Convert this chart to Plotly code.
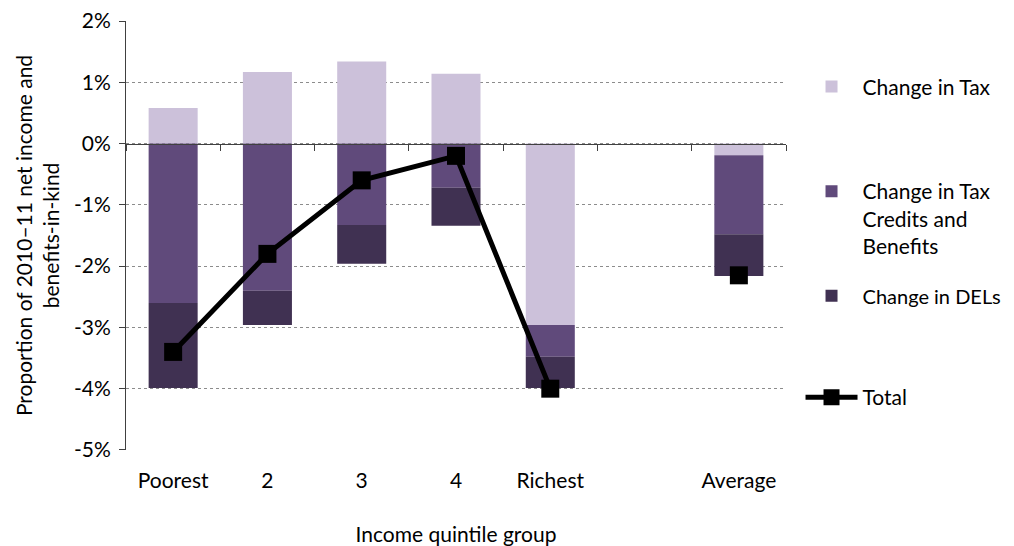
import plotly.graph_objects as go

categories = ["Poorest", "2", "3", "4", "Richest", " ", "Average"]
change_tax = [0.58, 1.17, 1.34, 1.14, -2.96, None, -0.19]
change_tcb = [-2.60, -2.40, -1.33, -0.72, -0.52, None, -1.29]
change_dels = [-1.39, -0.56, -0.63, -0.62, -0.51, None, -0.68]
total = [-3.40, -1.80, -0.60, -0.20, -4.00, None, -2.15]
ytick_vals = [2, 1, 0, -1, -2, -3, -4, -5]
ytick_text = ["2%", "1%", "0%", "-1%", "-2%", "-3%", "-4%", "-5%"]

FONT = "Lato"
FS = 21
TXT = "#000000"

fig = go.Figure()
fig.add_trace(go.Bar(x=categories, y=change_tax, name="Change in Tax",
                     marker=dict(color="#CCC1DA", line=dict(width=0)), legend="legend"))
fig.add_trace(go.Bar(x=categories, y=change_tcb, name="Change in Tax<br>Credits and<br>Benefits",
                     marker=dict(color="#604A7B", line=dict(width=0)), legend="legend2"))
fig.add_trace(go.Bar(x=categories, y=change_dels, name="Change in DELs",
                     marker=dict(color="#403152", line=dict(width=0)), legend="legend3"))
fig.add_trace(go.Scatter(x=categories, y=total, name="Total", mode="lines+markers",
                         line=dict(color="#000000", width=5),
                         marker=dict(symbol="square", size=18, color="#000000"),
                         connectgaps=False, xaxis="x2", legend="legend4"))

def leg(y, size=FS):
    return dict(font=dict(family=FONT, size=size, color=TXT), bgcolor="rgba(0,0,0,0)",
                xanchor="left", yanchor="top", valign="top", itemwidth=52, x=1.022, y=y)

fig.update_layout(
    width=1006, height=538,
    margin=dict(l=118, r=228, t=13, b=96, autoexpand=False),
    paper_bgcolor="white", plot_bgcolor="white",
    barmode="relative", bargap=0.48,
    showlegend=True,
    font=dict(family=FONT, size=FS, color=TXT),
    xaxis=dict(type="category", categoryorder="array", categoryarray=categories,
               showline=False, showgrid=False, zeroline=False,
               ticks="outside", ticklen=12, tickcolor="rgba(0,0,0,0)",
               tickfont=dict(family=FONT, size=FS, color=TXT),
               title=dict(text="Income quintile group", standoff=44,
                          font=dict(family=FONT, size=FS, color=TXT)),
               automargin=False),
    xaxis2=dict(type="category", matches="x", overlaying="x", anchor="free",
                position=5/7, showline=True, linecolor="#404040", linewidth=1,
                ticks="outside", tickson="boundaries", ticklen=6, tickcolor="#404040",
                showticklabels=False, showgrid=False, zeroline=False),
    yaxis=dict(range=[-5.001, 2.001], tickvals=ytick_vals, ticktext=ytick_text,
               showline=True, linecolor="#404040", linewidth=1,
               ticks="outside", ticklen=6, tickcolor="#404040",
               showgrid=True, gridcolor="#8C8C8C", griddash="dot", gridwidth=1,
               zeroline=False, ticklabeloverflow="allow", ticklabelstandoff=4,
               tickfont=dict(family=FONT, size=FS, color=TXT),
               title=dict(text="Proportion of 2010–11 net income and<br>benefits-in-kind",
                          standoff=8, font=dict(family=FONT, size=FS, color=TXT)),
               automargin=False),
    legend=leg(0.894),
    legend2=leg(0.65),
    legend3=leg(0.405, 20),
    legend4=leg(0.17),
)

fig.write_html("out.html")
